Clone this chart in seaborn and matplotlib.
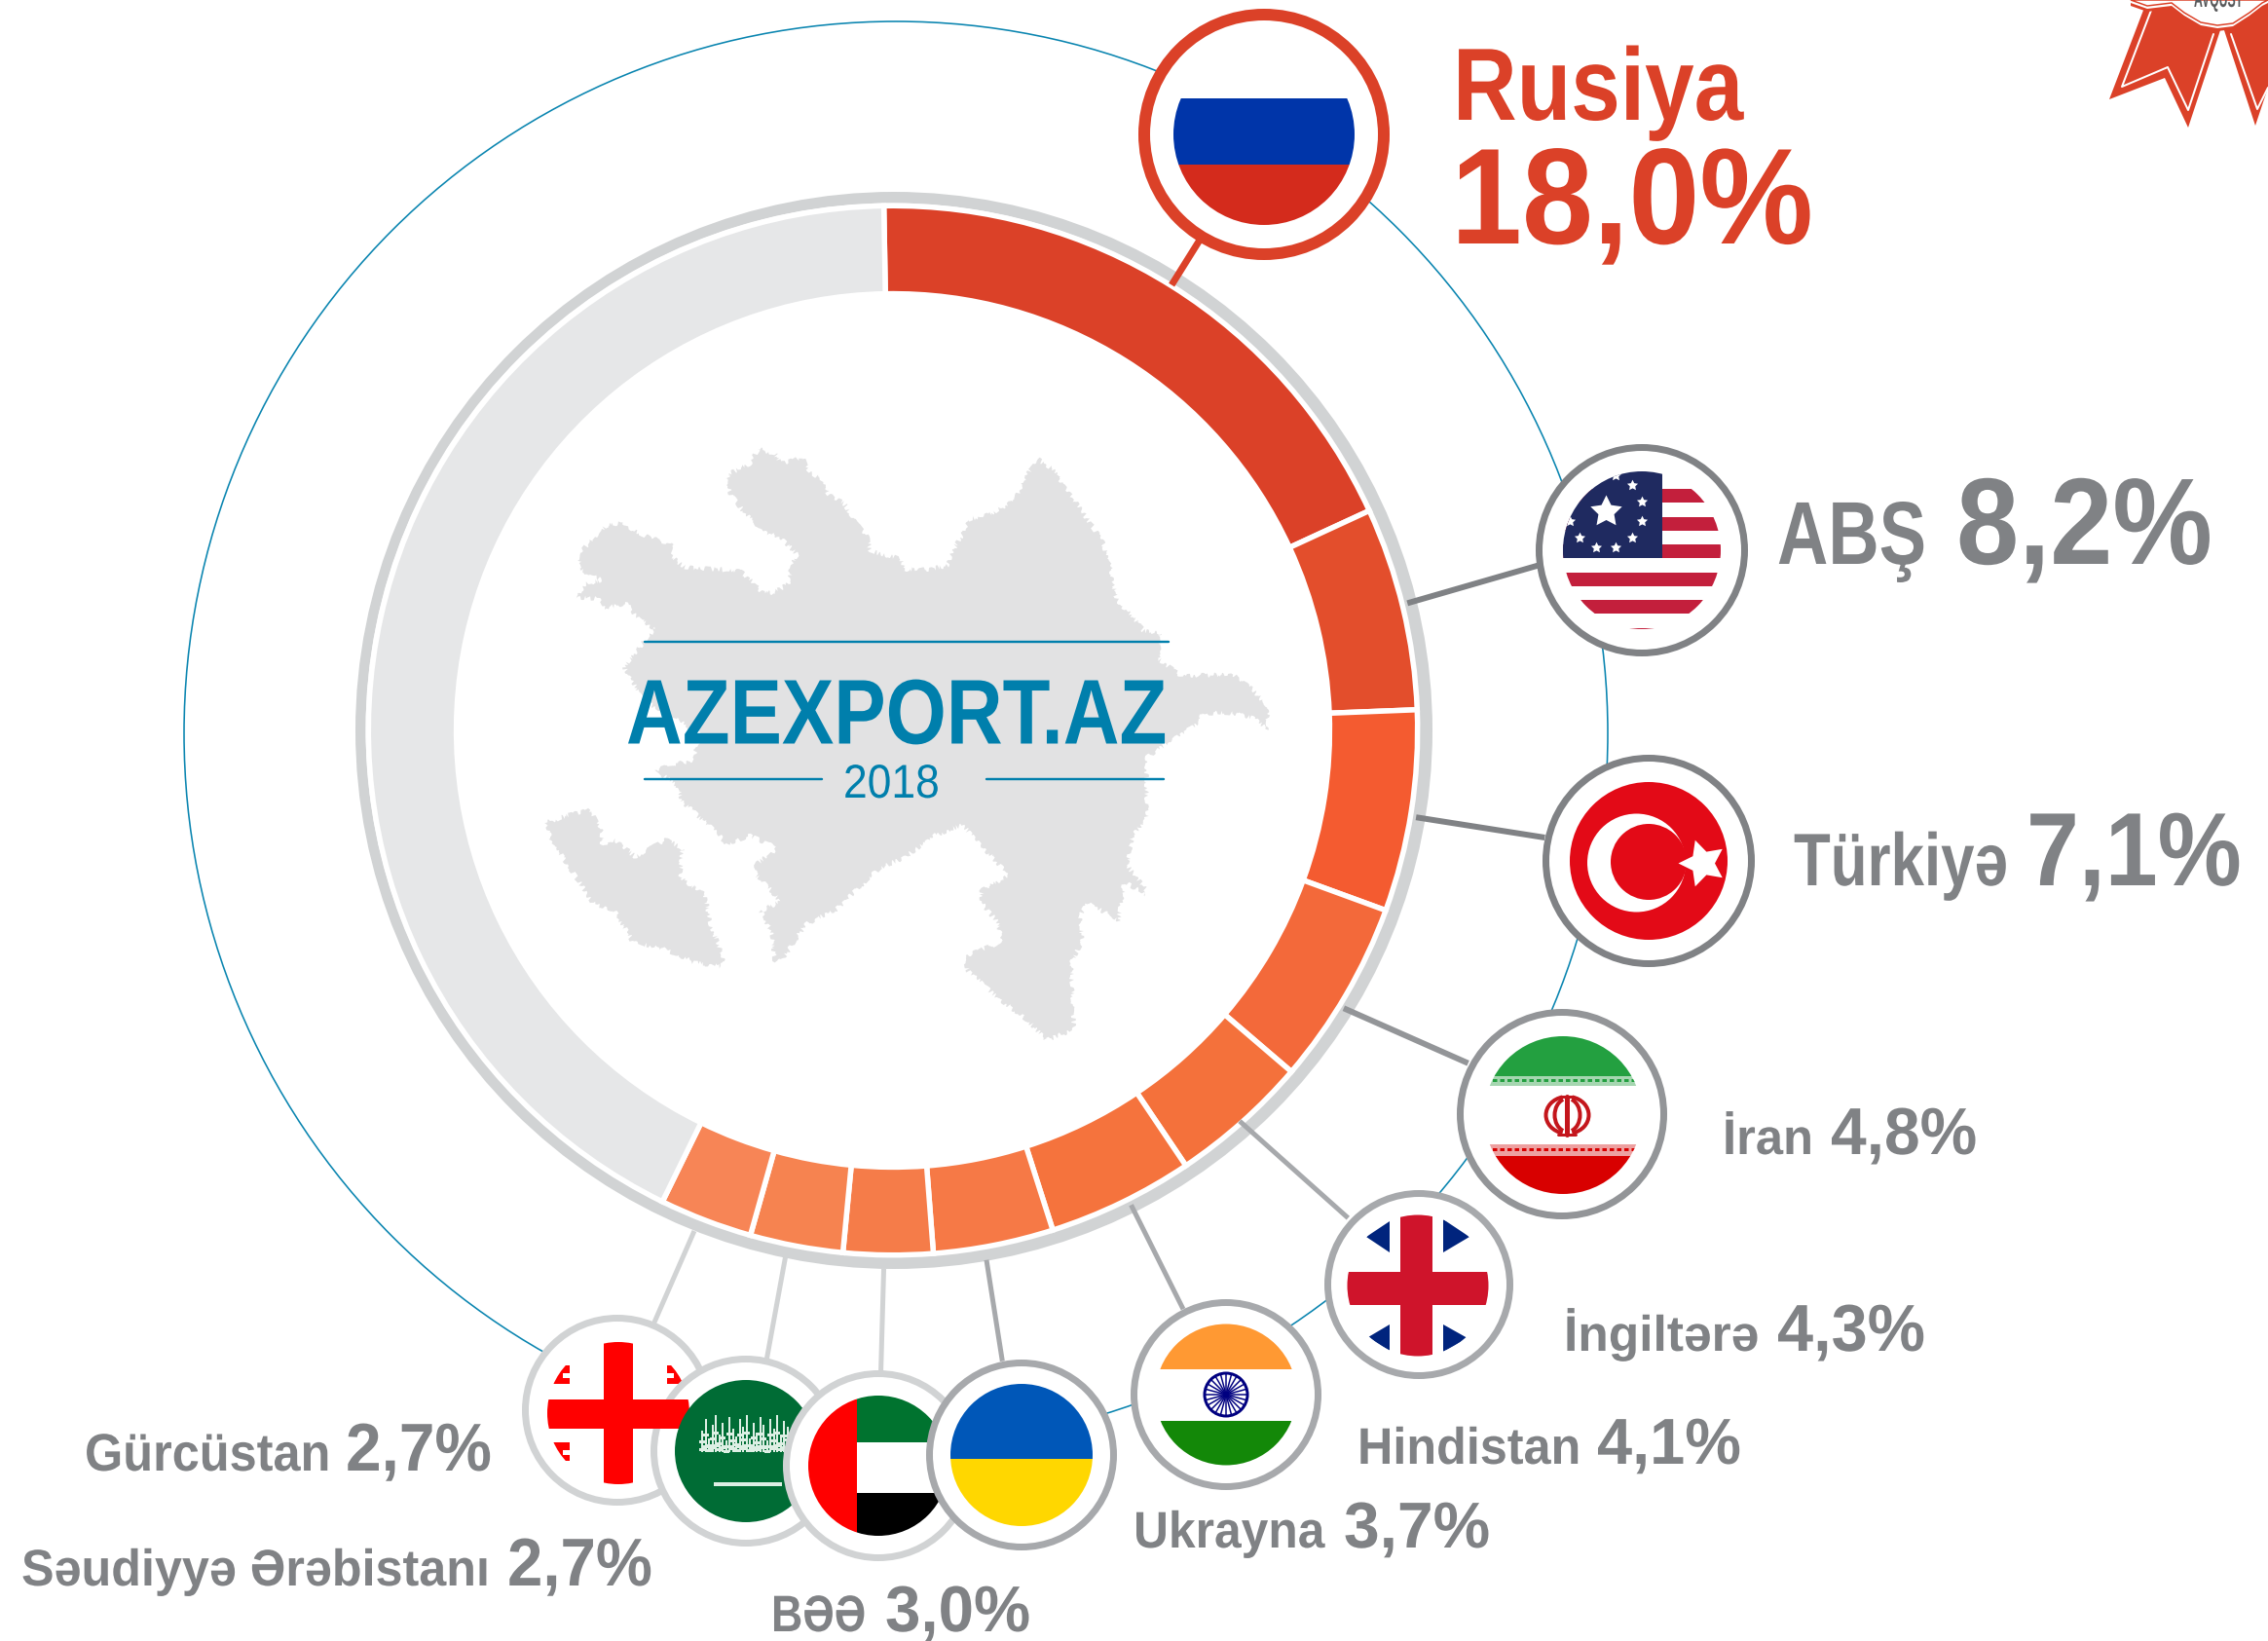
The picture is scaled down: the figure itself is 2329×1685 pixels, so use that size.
import matplotlib
matplotlib.use('Agg')
import matplotlib.pyplot as plt
import numpy as np
import seaborn as sns
from matplotlib.patches import Arc, Circle, Polygon, Rectangle
from matplotlib.patheffects import AbstractPathEffect
from matplotlib.transforms import Affine2D, Bbox

# arc shares as drawn in the picture (they run a bit off the printed labels)
countries = ['Rusiya', 'ABŞ', 'Türkiyə', 'İran', 'İngiltərə', 'Hindistan',
             'Ukrayna', 'BƏƏ', 'Səudiyyə Ərəbistanı', 'Gürcüstan', 'Digər']
labels = ['18,0%', '8,2%', '7,1%', '4,8%', '4,3%', '4,1%', '3,7%', '3,0%', '2,7%', '2,7%']
arc_shares = [18.4, 6.25, 6.2, 5.7, 4.3, 4.5, 3.7, 2.75, 2.86, 2.86, 42.48]
slice_colors = ['#DB4128', '#E34E2C', '#F45B30', '#F3693A', '#F4713B', '#F5733D',
                '#F67946', '#F57C49', '#F68350', '#F78556', '#E6E7E8']

W, H = 2329, 1685
CX, CY = 917, 750

sns.set_style('white')
plt.rcParams['font.family'] = ['Liberation Sans', 'DejaVu Sans']

fig = plt.figure(figsize=(W / 100, H / 100), dpi=100)
ax = fig.add_axes([0, 0, 1, 1])
ax.set_xlim(0, W)
ax.set_ylim(0, H)
ax.axis('off')
renderer = fig.canvas.get_renderer()


def Y(py):
    return H - py


def px(n):
    return n * 0.72


class Narrow(AbstractPathEffect):
    # no condensed font here, so squeeze the glyphs sideways around x0
    def __init__(self, sx, x0):
        super().__init__()
        self.sx = sx
        self.x0 = x0

    def draw_path(self, renderer, gc, tpath, affine, rgbFace=None):
        squeeze = Affine2D().translate(-self.x0, 0).scale(self.sx, 1).translate(self.x0, 0)
        renderer.draw_path(gc, tpath, affine + squeeze, rgbFace)


def fit_text(x, py, s, width, **kw):
    t = ax.text(x, Y(py), s, ha='left', va='baseline', **kw)
    box = t.get_window_extent(renderer)
    t.set_path_effects([Narrow(width / box.width, x)])
    t.get_window_extent = lambda renderer=None, dpi=None: Bbox.from_extents(x, box.y0, x + width, box.y1)
    return t


# thin blue circle
ax.add_patch(Circle((920, Y(753)), 731, fc='none', ec='#0A85B0', lw=px(1.6), zorder=1))

# grey outer ring, thicker on the right and at the bottom
ax.add_patch(Circle((918, Y(750)), 553, fc='#D1D3D4', ec='none', zorder=2))
ax.add_patch(Circle((916, Y(749)), 540.5, fc='white', ec='none', zorder=2.1))

# donut
ax.pie(arc_shares, colors=sns.color_palette(slice_colors), center=(CX, Y(CY)), radius=538.7,
       startangle=91, counterclock=False, frame=False,
       wedgeprops=dict(width=90.3, edgecolor='white', linewidth=px(5.5), zorder=3))
ax.set_xlim(0, W)
ax.set_ylim(0, H)
ax.set_aspect('auto')

# map
main_map = [(485, 95), (515, 105), (525, 130), (565, 115), (575, 150), (605, 170), (610, 200), (640, 225),
            (660, 270), (680, 300), (685, 335), (740, 355), (745, 380), (790, 380), (825, 370), (830, 340),
            (850, 300), (860, 262), (900, 250), (945, 215), (960, 170), (985, 118), (1010, 140), (1050, 215),
            (1100, 310), (1115, 370), (1125, 450), (1160, 500), (1175, 525), (1205, 530), (1200, 590),
            (1240, 630), (1300, 630), (1330, 625), (1370, 665), (1395, 700), (1398, 760), (1370, 730),
            (1330, 720), (1280, 720), (1275, 745), (1240, 770), (1180, 825), (1180, 890), (1180, 970),
            (1155, 1010), (1145, 1080), (1180, 1140), (1180, 1150), (1140, 1120), (1130, 1210), (1075, 1170),
            (1060, 1200), (1065, 1260), (1045, 1310), (1050, 1470), (1000, 1495), (970, 1450), (910, 1390),
            (860, 1330), (855, 1295), (925, 1260), (910, 1210), (885, 1170), (885, 1140), (935, 1105),
            (850, 985), (800, 1010), (750, 1060), (700, 1090), (660, 1140), (620, 1190), (570, 1220),
            (530, 1300), (515, 1310), (510, 1240), (490, 1190), (525, 1165), (480, 1100), (480, 1080),
            (520, 1040), (470, 1010), (430, 1030), (400, 990), (350, 930), (340, 890), (300, 855), (370, 830),
            (380, 770), (340, 735), (280, 690), (245, 610), (300, 520), (265, 490), (250, 460), (210, 470),
            (200, 450), (160, 445), (175, 415), (205, 405), (165, 380), (165, 340), (215, 275), (240, 270),
            (290, 305), (335, 320), (325, 345), (355, 375), (420, 380), (455, 385), (490, 430), (510, 435),
            (540, 415), (545, 370), (555, 345), (530, 310), (490, 285), (460, 245), (435, 200), (430, 155),
            (470, 130)]
nakhchivan = [(105, 980), (150, 960), (185, 950), (205, 1000), (205, 1030), (230, 1020), (265, 1060), (320, 1020),
              (350, 1040), (345, 1110), (390, 1150), (400, 1220), (425, 1305), (420, 1320), (370, 1310),
              (320, 1280), (260, 1260), (230, 1190), (190, 1170), (150, 1090), (115, 1020)]
for outline in [main_map, nakhchivan]:
    pts = [(500 + x / 1.742, Y(420 + y / 2.306)) for x, y in outline]
    land = Polygon(pts, fc='#E2E2E3', ec='none', zorder=4)
    land.set_sketch_params(scale=2.5, length=14, randomness=40)
    ax.add_patch(land)

# centre title
BLUE = '#007FAC'
ax.plot([662, 1200], [Y(658.5)] * 2, color=BLUE, lw=px(2.4), zorder=5)
ax.plot([662, 844], [Y(800)] * 2, color=BLUE, lw=px(2.4), zorder=5)
ax.plot([1013, 1195], [Y(800)] * 2, color=BLUE, lw=px(2.4), zorder=5)
fit_text(643, 763.5, 'AZEXPORT.AZ', 556, color=BLUE, fontsize=68, fontweight='bold', zorder=6)
fit_text(866, 819, '2018', 99, color=BLUE, fontsize=35, zorder=6)

# connectors: from ring to flag, in the 1568 wide picture coordinates
S = 2329 / 1568
connectors = [((810, 197), (830, 165), '#DB4128', 7), ((973, 417), (1063, 391), '#808285', 6),
              ((979, 565), (1068, 579), '#808285', 6), ((929, 697), (1015, 735), '#939598', 6),
              ((857, 775), (932, 842), '#A7A9AC', 5), ((782, 833), (818, 905), '#A7A9AC', 5),
              ((682, 871), (693, 941), '#A7A9AC', 5), ((611, 877), (609, 948), '#D1D3D4', 5),
              ((543, 869), (530, 940), '#D1D3D4', 5), ((480, 851), (452, 915), '#D1D3D4', 5)]
for a, b, c, w in connectors:
    ax.plot([a[0] * S, b[0] * S], [Y(a[1] * S), Y(b[1] * S)], color=c, lw=px(w), solid_capstyle='butt', zorder=5)


def badge(cx, cy, r_out, r_flag, ring, ring_w, z):
    # white disc with ring, returns the clip circle for the flag
    ax.add_patch(Circle((cx, Y(cy)), r_out - ring_w / 2, fc='white', ec=ring, lw=px(ring_w), zorder=z))
    return Circle((cx, Y(cy)), r_flag, transform=ax.transData)


def rect(x0, y0, x1, y1, color, clip, z):
    r = Rectangle((x0, Y(y1)), x1 - x0, y1 - y0, fc=color, ec='none', zorder=z)
    ax.add_patch(r)
    r.set_clip_path(clip)
    return r


def poly(points, color, clip, z):
    p = Polygon([(x, Y(y)) for x, y in points], fc=color, ec='none', zorder=z)
    ax.add_patch(p)
    p.set_clip_path(clip)
    return p


def star(x, y, size, color, clip, z, angle=0):
    s = ax.scatter([x], [Y(y)], s=size, marker=(5, 1, angle), color=color, linewidths=0, zorder=z)
    s.set_clip_path(clip)


# Georgia
z = 10
c = Circle((635, Y(1451)), 73, transform=ax.transData)
badge(634, 1448, 98, 73, '#D1D3D4', 7, z)
for x0, x1, nx0, nx1 in [(555, 585, 578, 586), (685, 715, 684, 692)]:
    for y0, y1 in [(1402, 1421), (1481, 1500)]:
        rect(x0, y0, x1, y1, '#FF0000', c, z + 1)
        rect(nx0, y0 + 8, nx1, y0 + 13, 'white', c, z + 2)
rect(620, 1370, 650, 1530, '#FF0000', c, z + 3)
rect(550, 1437, 720, 1467, '#FF0000', c, z + 3)

# Saudi Arabia
z = 12
c = badge(766, 1490, 98, 73, '#D1D3D4', 7, z)
rect(690, 1410, 840, 1570, '#006C35', c, z + 1)
stroke_h = [22, 34, 14, 28, 38, 18, 30, 12, 36, 24, 16, 34, 26, 38, 14, 30, 20, 36, 28, 12, 34, 24, 38, 18, 32, 26]
for i, h_ in enumerate(stroke_h):
    sx = 720 + i * 3.5
    rect(sx, 1491 - h_, sx + 2.4, 1491, '#DDEFE4', c, z + 1)
    rect(sx - 2, 1491 - h_ * 0.55, sx + 4, 1491 - h_ * 0.55 + 3, '#DDEFE4', c, z + 1)
    rect(sx - 2, 1491 - h_ * 0.2, sx + 4, 1491 - h_ * 0.2 + 3, '#DDEFE4', c, z + 1)
rect(733, 1522, 803, 1526, '#DDEFE4', c, z + 1)

# UAE
z = 14
c = badge(902, 1505, 98, 72, '#D1D3D4', 7, z)
rect(880, 1430, 980, 1481, '#00732F', c, z + 1)
rect(880, 1533, 980, 1580, '#000000', c, z + 1)
rect(825, 1430, 880, 1580, '#FF0000', c, z + 1)

# Ukraine
z = 16
c = badge(1049, 1494, 98, 73, '#A7A9AC', 7, z)
rect(970, 1420, 1130, 1498, '#0057B8', c, z + 1)
rect(970, 1498, 1130, 1570, '#FFD700', c, z + 1)

# India
z = 18
cx, cy = 1259, 1432
c = badge(cx, cy, 98, 72.5, '#A7A9AC', 7, z)
rect(1180, 1355, 1340, 1406, '#FF9933', c, z + 1)
rect(1180, 1459, 1340, 1510, '#138808', c, z + 1)
ax.add_patch(Circle((cx, Y(cy)), 22, fc='white', ec='#000080', lw=px(3), zorder=z + 1))
for a in np.linspace(0, np.pi, 12, endpoint=False):
    ax.plot([cx - 21 * np.cos(a), cx + 21 * np.cos(a)], [Y(cy) - 21 * np.sin(a), Y(cy) + 21 * np.sin(a)],
            color='#000080', lw=px(1.5), zorder=z + 1)

# UK
z = 20
c = Circle((1456, Y(1320)), 72.5, transform=ax.transData)
badge(1457, 1319, 97, 72.5, '#A7A9AC', 7, z)
for tri in [[(1427, 1254), (1427, 1286), (1403, 1270)], [(1482, 1252), (1482, 1286), (1509, 1270)],
            [(1427, 1360), (1427, 1387), (1405, 1373)], [(1482, 1360), (1482, 1388), (1507, 1374)]]:
    poly(tri, '#00247D', c, z + 1)
rect(1438, 1240, 1471, 1400, '#CF142B', c, z + 1)
rect(1380, 1306, 1535, 1340, '#CF142B', c, z + 1)

# Iran
z = 22
c = Circle((1605, Y(1145)), 81, transform=ax.transData)
badge(1604, 1144, 108, 81, '#939598', 7, z)
rect(1515, 1060, 1695, 1105, '#23A040', c, z + 1)
rect(1515, 1105, 1695, 1115, '#A5D6B0', c, z + 1)
rect(1515, 1175, 1695, 1187, '#EDA0A0', c, z + 1)
rect(1515, 1187, 1695, 1230, '#D80000', c, z + 1)
for yy, col in [(1109, '#23A040'), (1180, '#D80000')]:
    dash, = ax.plot([1525, 1685], [Y(yy)] * 2, color=col, lw=px(3), ls=(0, (1.5, 1)), zorder=z + 2)
    dash.set_clip_path(c)
EMB = '#C4161C'
for w_, h_ in [(44, 38), (26, 34)]:
    ax.add_patch(Arc((1609.5, Y(1145)), w_, h_, theta1=-75, theta2=75, ec=EMB, lw=px(4), zorder=z + 2))
    ax.add_patch(Arc((1609.5, Y(1145)), w_, h_, theta1=105, theta2=255, ec=EMB, lw=px(4), zorder=z + 2))
ax.plot([1609, 1609], [Y(1126), Y(1165)], color=EMB, lw=px(5), zorder=z + 2)
ax.plot([1603, 1615], [Y(1126)] * 2, color=EMB, lw=px(3), zorder=z + 2)
ax.plot([1600, 1618], [Y(1165)] * 2, color=EMB, lw=px(3), zorder=z + 2)

# Turkey
z = 24
cx, cy, rf = 1693, 884, 81
c = badge(1693, 884, 109, rf, '#808285', 7, z)
ax.add_patch(Circle((cx, Y(cy)), rf, fc='#E30A17', ec='none', zorder=z + 1))
ax.add_patch(Circle((1680.5, Y(886)), 50.5, fc='white', ec='none', zorder=z + 2))
ax.add_patch(Circle((1693, Y(885)), 39, fc='#E30A17', ec='none', zorder=z + 3))
ax.scatter([1748], [Y(886)], s=1296, marker=(5, 1, 90), color='white', linewidths=0, zorder=z + 4)

# USA
z = 26
c = badge(1686, 565, 109, 81, '#808285', 7, z)
for y0 in np.arange(502, 650, 28.5):
    rect(1600, y0, 1770, y0 + 14, '#C31F3C', c, z + 1)
rect(1600, 480, 1707, 573, '#1F2A60', c, z + 2)
star(1649, 525, 600, 'white', c, z + 3)
for a in np.radians(np.arange(-75, 271, 30)):
    star(1649 + 38 * np.cos(a), 525 + 38 * np.sin(a), 70, 'white', c, z + 3)

# Russia
z = 28
c = badge(1298, 138, 129, 93, '#DB4128', 12, z)
rect(1200, 101, 1400, 169, '#0035A9', c, z + 1)
rect(1200, 169, 1400, 240, '#D42B1C', c, z + 1)

# labels: x, baseline, size and width in pixels of the picture
GREY = '#808285'
name_x = [1492, 1825, 1842, 1769, 1606, 1394, 1164, 792, 22, 87]
value_x = [1490, 2009, 2081, 1880, 1825, 1640, 1380, 909, 521, 355]
baseline = [123, 579, 909, 1185, 1387, 1503, 1589, 1675, 1628, 1510]
name_size = [76, 66, 55, 37, 37, 38, 38, 38, 38, 39]
value_size = [101, 91, 77, 49, 49, 48, 48, 48, 50, 50]
name_w = [298, 153, 220, 93, 200, 229, 196, 97, 480, 252]
value_w = [372, 263, 221, 150, 152, 148, 150, 149, 149, 150]
for i, lab in enumerate(labels):
    col = '#DB4128' if i == 0 else GREY
    fit_text(name_x[i], baseline[i], countries[i], name_w[i], color=col, fontsize=name_size[i],
             fontweight='bold', zorder=40)
    vy = 250 if i == 0 else baseline[i]
    fit_text(value_x[i], vy, lab, value_w[i], color=col, fontsize=value_size[i], fontweight='bold', zorder=40)

# ribbon in the top right corner
RED = '#DB4128'
ribbons = [[(2205, 0), (2166, 102), (2223, 80), (2247, 131), (2282, 25)],
           [(2282, 25), (2316, 129), (2329, 90), (2329, 0)]]
inlines = [[(2210, 8), (2179, 89), (2226, 69), (2247, 113), (2273, 35)],
           [(2291, 35), (2318, 112), (2329, 90)]]
for rib in ribbons:
    ax.add_patch(Polygon([(x, Y(y)) for x, y in rib], fc=RED, ec='none', zorder=30))
for line in inlines:
    ax.plot([p[0] for p in line], [Y(p[1]) for p in line], color='white', lw=px(2), zorder=30.5)
wave = [(2188, 0), (2205, 6), (2230, 3), (2243, 13), (2260, 23), (2277, 26), (2293, 24), (2310, 13), (2323, 3),
        (2329, 0)]
ax.add_patch(Polygon([(x, Y(y + 6)) for x, y in wave] + [(2329, H), (2188, H)], fc=RED, ec='none', zorder=31))
ax.add_patch(Polygon([(x, Y(y + 3)) for x, y in wave] + [(2329, H), (2188, H)], fc='white', ec='none', zorder=31.2))
ax.add_patch(Polygon([(x, Y(y)) for x, y in wave] + [(2329, H), (2188, H)], fc='white', ec=RED, lw=px(1.5), zorder=31.4))
fit_text(2253, 7, 'AVQUST', 50, color='#58595B', fontsize=18, fontweight='bold', zorder=32)

fig.savefig('out.png', dpi=100, facecolor='white')
